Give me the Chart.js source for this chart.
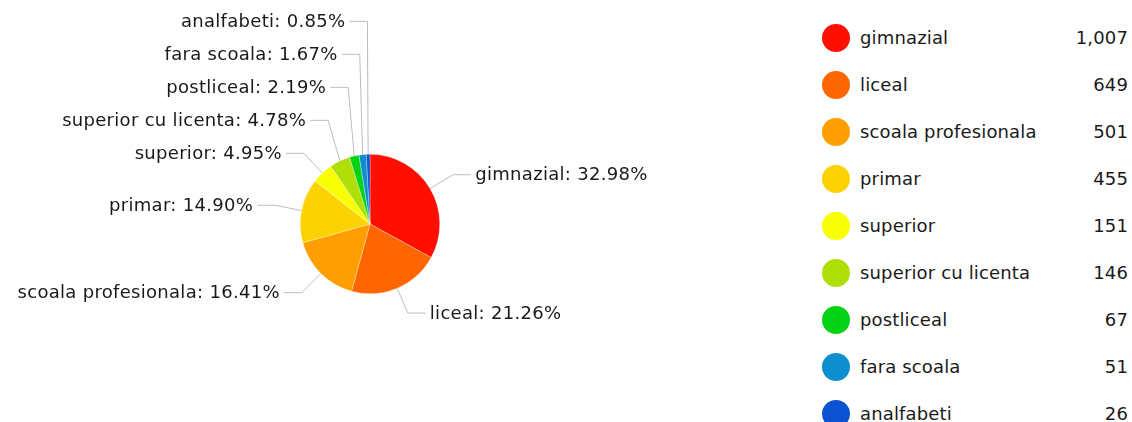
<!DOCTYPE html>
<html>
<head>
<meta charset="utf-8">
<script src="https://cdn.jsdelivr.net/npm/chart.js@4/dist/chart.umd.min.js"></script>
<style>
  html, body { margin: 0; padding: 0; background: #fff; }
  body { width: 1132px; height: 422px; position: relative; overflow: hidden; font-family: "DejaVu Sans", Verdana, sans-serif; }
  #wrap { position: absolute; left: 0; top: 0; width: 760px; height: 422px; }
  #legend { position: absolute; left: 822px; top: 14px; width: 306px; }
  .row { height: 47px; display: flex; align-items: center; font-size: 18px; letter-spacing: 0.15px; color: #1a1a1a; }
  .dot { width: 28px; height: 28px; border-radius: 50%; margin-right: 10px; flex: none; }
  .name { flex: 1; }
  .val { text-align: right; }
</style>
</head>
<body>
<div id="wrap"><canvas id="pie"></canvas></div>
<div id="legend"></div>
<script>
const categories = ['gimnazial', 'liceal', 'scoala profesionala', 'primar', 'superior',
  'superior cu licenta', 'postliceal', 'fara scoala', 'analfabeti'];
const counts = [1007, 649, 501, 455, 151, 146, 67, 51, 26];
const colors = ['#FF0F00', '#FF6600', '#FF9E01', '#FCD202', '#F8FF01',
  '#B0DE09', '#04D215', '#0D8ECF', '#0D52D1'];

const total = counts.reduce((a, b) => a + b, 0);

// legend on the right
const legend = document.getElementById('legend');
categories.forEach((name, i) => {
  const row = document.createElement('div');
  row.className = 'row';
  row.innerHTML = `<span class="dot" style="background:${colors[i]}"></span>` +
    `<span class="name">${name}</span>` +
    `<span class="val">${counts[i].toLocaleString('en-US')}</span>`;
  legend.appendChild(row);
});

// leader-line labels around the pie
const sliceLabels = {
  id: 'sliceLabels',
  afterDraw(chart) {
    const ctx = chart.ctx;
    const arcs = chart.getDatasetMeta(0).data;
    const gap = 27, tail = 18, spacing = 33;
    const items = arcs.map((arc, i) => {
      const mid = (arc.startAngle + arc.endAngle) / 2;
      const r = arc.outerRadius;
      return {
        i,
        ax: arc.x + Math.cos(mid) * r,
        ay: arc.y + Math.sin(mid) * r,
        ex: arc.x + Math.cos(mid) * (r + gap),
        ey: arc.y + Math.sin(mid) * (r + gap),
        right: Math.cos(mid) >= 0
      };
    });
    // push overlapping labels apart, left side goes upward
    const left = items.filter(d => !d.right).sort((a, b) => b.ey - a.ey);
    for (let k = 1; k < left.length; k++) {
      if (left[k].ey > left[k - 1].ey - spacing) left[k].ey = left[k - 1].ey - spacing;
    }
    const right = items.filter(d => d.right).sort((a, b) => a.ey - b.ey);
    for (let k = 1; k < right.length; k++) {
      if (right[k].ey < right[k - 1].ey + spacing) right[k].ey = right[k - 1].ey + spacing;
    }

    ctx.save();
    ctx.font = '18px "DejaVu Sans", Verdana, sans-serif';
    ctx.letterSpacing = '0.3px';
    ctx.textBaseline = 'middle';
    items.forEach(d => {
      const tx = d.right ? d.ex + tail : d.ex - tail;
      ctx.strokeStyle = '#bdbdbd';
      ctx.lineWidth = 1;
      ctx.beginPath();
      ctx.moveTo(d.ax, d.ay);
      ctx.lineTo(d.ex, d.ey);
      ctx.lineTo(tx, d.ey);
      ctx.stroke();
      const pct = (counts[d.i] / total * 100).toFixed(2);
      ctx.fillStyle = '#1a1a1a';
      ctx.textAlign = d.right ? 'left' : 'right';
      ctx.fillText(`${categories[d.i]}: ${pct}%`, d.right ? tx + 4 : tx - 4, d.ey + 1);
    });
    ctx.restore();
  }
};

new Chart(document.getElementById('pie'), {
  type: 'pie',
  data: {
    labels: categories,
    datasets: [{
      data: counts,
      backgroundColor: colors,
      borderColor: 'rgba(255,255,255,0.6)',
      borderWidth: 0.5
    }]
  },
  options: {
    responsive: true,
    maintainAspectRatio: false,
    animation: false,
    layout: { padding: { left: 300, right: 320, top: 154, bottom: 128 } },
    plugins: {
      legend: { display: false },
      tooltip: { enabled: false }
    }
  },
  plugins: [sliceLabels]
});
</script>
</body>
</html>
